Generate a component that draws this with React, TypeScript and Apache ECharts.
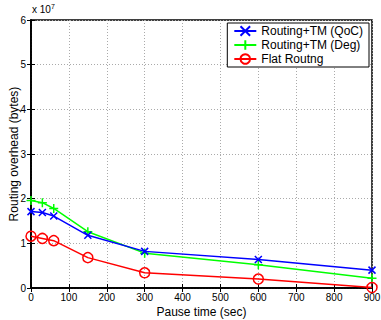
import React, { useEffect, useRef } from "react";
import * as echarts from "echarts";

const pauseTimes = [0, 30, 60, 150, 300, 600, 900];
// values in units of 10^7 bytes
const qocValues = [1.71, 1.69, 1.61, 1.18, 0.82, 0.64, 0.4];
const degValues = [1.96, 1.91, 1.78, 1.26, 0.78, 0.52, 0.22];
const flatValues = [1.16, 1.11, 1.06, 0.68, 0.34, 0.2, 0.01];
const seriesNames = ["Routing+TM (QoC)", "Routing+TM (Deg)", "Flat Routng"];

const FONT = "Liberation Sans";

export default function App() {
  const ref = useRef<HTMLDivElement>(null);
  useEffect(() => {
    if (!ref.current) return;
    const chart = echarts.init(ref.current, undefined, { renderer: "svg" });
    const toPairs = (vals: number[]) => pauseTimes.map((t, i) => [t, vals[i]]);
    const tickStyle = { show: true, inside: true, length: 4, lineStyle: { color: "#000", width: 1 } };
    chart.setOption({
      animation: false,
      backgroundColor: "#fff",
      textStyle: { fontFamily: FONT },
      grid: {
        left: 31,
        right: 9,
        top: 20,
        bottom: 32,
        containLabel: false,
        outerBoundsMode: "none",
        show: true,
        borderColor: "#000",
        borderWidth: 1.5,
      },
      legend: {
        right: 12,
        top: 23,
        orient: "vertical",
        backgroundColor: "#fff",
        borderColor: "#000",
        borderWidth: 1,
        padding: [2, 6, 2, 6],
        itemGap: 2,
        itemWidth: 22,
        itemHeight: 12,
        textStyle: { fontFamily: FONT, fontSize: 12, color: "#000", padding: [0, 0, 0, 0] },
        data: seriesNames,
      },
      xAxis: [
        {
          type: "value",
          min: 0,
          max: 900,
          interval: 100,
          name: "Pause time (sec)",
          nameLocation: "middle",
          nameGap: 18,
          nameMoveOverlap: false,
          nameTextStyle: { fontFamily: FONT, fontSize: 12, color: "#000" },
          axisLine: { show: true, lineStyle: { color: "#000", width: 1.5 } },
          axisTick: tickStyle,
          axisLabel: { fontFamily: FONT, fontSize: 10, color: "#000", margin: 4 },
          splitLine: { show: true, lineStyle: { color: "#aaa", type: [1, 2], width: 1 } },
        },
        {
          type: "value",
          position: "top",
          min: 0,
          max: 900,
          interval: 100,
          axisLine: { show: true, lineStyle: { color: "#000", width: 1.5 } },
          axisTick: tickStyle,
          axisLabel: { show: false },
          splitLine: { show: false },
        },
      ],
      yAxis: [
        {
          type: "value",
          min: 0,
          max: 6,
          interval: 1,
          name: "Routing overhead (bytes)",
          nameLocation: "middle",
          nameGap: 11,
          nameMoveOverlap: false,
          nameTextStyle: { fontFamily: FONT, fontSize: 12, color: "#000" },
          axisLine: { show: true, lineStyle: { color: "#000", width: 1.5 } },
          axisTick: tickStyle,
          axisLabel: { fontFamily: FONT, fontSize: 10, color: "#000", margin: 5 },
          splitLine: { show: true, lineStyle: { color: "#aaa", type: [1, 2], width: 1 } },
        },
        {
          type: "value",
          position: "right",
          min: 0,
          max: 6,
          interval: 1,
          axisLine: { show: true, lineStyle: { color: "#000", width: 1.5 } },
          axisTick: tickStyle,
          axisLabel: { show: false },
          splitLine: { show: false },
        },
      ],
      graphic: [
        {
          type: "text",
          left: 32,
          top: 3,
          style: {
            text: "x 10{sup|7}",
            fontFamily: FONT,
            fontSize: 10,
            fill: "#000",
            rich: { sup: { fontSize: 7, verticalAlign: "top", padding: [0, 0, 6, 0], fontFamily: FONT } },
          },
        },
      ],
      series: [
        {
          name: seriesNames[0],
          type: "line",
          data: toPairs(qocValues),
          symbol: "path://M0,0L10,10M10,0L0,10",
          symbolSize: 7,
          lineStyle: { color: "#0000ff", width: 1.5 },
          itemStyle: { color: "#0000ff", borderColor: "#0000ff", borderWidth: 1.5 },
          z: 3,
        },
        {
          name: seriesNames[1],
          type: "line",
          data: toPairs(degValues),
          symbol: "path://M5,0L5,10M0,5L10,5",
          symbolSize: 9,
          lineStyle: { color: "#00ff00", width: 1.5 },
          itemStyle: { color: "#00ff00", borderColor: "#00ff00", borderWidth: 1.5 },
          z: 2,
        },
        {
          name: seriesNames[2],
          type: "line",
          data: toPairs(flatValues),
          symbol: "circle",
          symbolSize: 10,
          lineStyle: { color: "#ff0000", width: 1.5 },
          itemStyle: { color: "rgba(0,0,0,0)", borderColor: "#ff0000", borderWidth: 1.5 },
          z: 4,
        },
      ],
    });
    return () => chart.dispose();
  }, []);
  return <div ref={ref} style={{ width: 381, height: 320, position: "absolute", left: 0, top: 0 }} />;
}
